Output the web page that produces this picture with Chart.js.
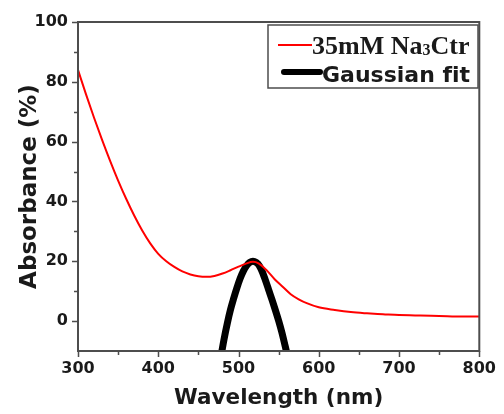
<!DOCTYPE html>
<html lang="en">
<head>
<meta charset="UTF-8">
<title>Absorbance spectrum</title>
<script src="https://cdn.jsdelivr.net/npm/chart.js"></script>
<style>
  html, body { margin: 0; padding: 0; background: #fff; }
  #wrap { width: 504px; height: 414px; position: relative; }
</style>
</head>
<body>
<div id="wrap"><canvas id="absChart"></canvas></div>
<script>
// measured spectrum
const wavelength = [300, 310, 320, 330, 340, 350, 360, 370, 380, 390, 400, 410, 420, 430, 440, 450, 460, 470, 480, 490,
  500, 510, 518, 525, 535, 545, 555, 565, 575, 585, 600, 620, 640, 660, 680, 700, 720, 740, 760, 780, 800];
const absorbance = [84, 75.8, 68, 60.6, 53.6, 47, 40.9, 35.3, 30.3, 26, 22.5, 20, 18.1, 16.6, 15.6, 15, 14.8, 15.1, 15.9, 17,
  18.2, 19.3, 19.8, 19.3, 17, 14, 11.5, 9, 7.3, 6, 4.6, 3.7, 3, 2.6, 2.3, 2, 1.9, 1.8, 1.6, 1.5, 1.5];

// gaussian fit of the plasmon band
const fitWavelength = [478, 482, 486, 490, 494, 498, 502, 506, 510, 514, 518, 522, 526, 530, 534, 538, 542, 546, 550, 554, 558, 562];
const fitAbsorbance = [-12, -6, -0.8, 3.8, 7.6, 11.1, 14.2, 16.7, 18.5, 19.6, 20, 19.6, 18.5, 16.2, 13.3, 10.1, 6.9, 3.6, 0.1, -3.8, -8.2, -12.7];

const seriesNames = ['35mM Na₃Ctr', 'Gaussian fit'];

const xTicks = [300, 350, 400, 450, 500, 550, 600, 650, 700, 750, 800];
const xLabels = [300, 400, 500, 600, 700, 800];
const yTicks = [0, 10, 20, 30, 40, 50, 60, 70, 80, 90, 100];
const yLabels = [0, 20, 40, 60, 80, 100];

const toPoints = (xs, ys) => xs.map((v, i) => ({ x: v, y: ys[i] }));

const AXIS_COLOR = '#4d4d4d';
const TEXT_COLOR = '#1a1a1a';

// box around the plot plus outward tick marks
const frameTicks = {
  id: 'frameTicks',
  afterDatasetsDraw(chart) {
    const { ctx, chartArea: a, scales: { x, y } } = chart;
    ctx.save();
    ctx.strokeStyle = AXIS_COLOR;
    ctx.lineWidth = 2;
    ctx.strokeRect(a.left, a.top, a.right - a.left, a.bottom - a.top);
    ctx.lineWidth = 1.5;
    ctx.beginPath();
    xTicks.forEach(v => {
      const px = Math.round(x.getPixelForValue(v)) + 0.5;
      const len = xLabels.includes(v) ? 6 : 4;
      ctx.moveTo(px, a.bottom);
      ctx.lineTo(px, a.bottom + len);
    });
    yTicks.forEach(v => {
      const py = Math.round(y.getPixelForValue(v)) + 0.5;
      const len = yLabels.includes(v) ? 6 : 4;
      ctx.moveTo(a.left, py);
      ctx.lineTo(a.left - len, py);
    });
    ctx.stroke();
    ctx.restore();
  }
};

// draws text, shrinking subscript digits (₀-₉)
function drawMixed(ctx, text, x, y, family, size) {
  const subs = '₀₁₂₃₄₅₆₇₈₉';
  for (const ch of text) {
    const k = subs.indexOf(ch);
    if (k >= 0) {
      ctx.font = `bold ${Math.round(size * 0.6)}px ${family}`;
      ctx.fillText(String(k), x, y + 1);
      x += ctx.measureText(String(k)).width;
    } else {
      ctx.font = `bold ${size}px ${family}`;
      ctx.fillText(ch, x, y);
      x += ctx.measureText(ch).width;
    }
  }
}

const boxLegend = {
  id: 'boxLegend',
  afterDraw(chart) {
    const { ctx } = chart;
    const ds = chart.data.datasets;
    ctx.save();
    ctx.fillStyle = '#fff';
    ctx.fillRect(268, 25, 210, 63);
    ctx.strokeStyle = AXIS_COLOR;
    ctx.lineWidth = 1.5;
    ctx.strokeRect(268, 25, 210, 63);

    ctx.lineCap = 'butt';
    ctx.strokeStyle = ds[0].borderColor;
    ctx.lineWidth = 2;
    ctx.beginPath();
    ctx.moveTo(278, 45);
    ctx.lineTo(312, 45);
    ctx.stroke();

    ctx.strokeStyle = ds[1].borderColor;
    ctx.lineWidth = 6;
    ctx.lineCap = 'round';
    ctx.beginPath();
    ctx.moveTo(284, 72);
    ctx.lineTo(320, 72);
    ctx.stroke();

    ctx.fillStyle = TEXT_COLOR;
    ctx.textBaseline = 'alphabetic';
    drawMixed(ctx, ds[0].label, 312, 54, '"Liberation Serif", "Times New Roman", serif', 26);
    drawMixed(ctx, ds[1].label, 322, 82, '"DejaVu Sans", Verdana, sans-serif', 22);
    ctx.restore();
  }
};

const tickFont = { family: '"DejaVu Sans", Verdana, sans-serif', size: 16, weight: 'bold' };
const titleFont = { family: '"DejaVu Sans", Verdana, sans-serif', size: 21.5, weight: 'bold' };

new Chart(document.getElementById('absChart'), {
  type: 'line',
  data: {
    datasets: [
      {
        label: seriesNames[0],
        data: toPoints(wavelength, absorbance),
        borderColor: '#ff0000',
        borderWidth: 2,
        pointRadius: 0,
        cubicInterpolationMode: 'monotone'
      },
      {
        label: seriesNames[1],
        data: toPoints(fitWavelength, fitAbsorbance),
        borderColor: '#000000',
        borderWidth: 7,
        pointRadius: 0,
        cubicInterpolationMode: 'monotone',
        clip: 0
      }
    ]
  },
  options: {
    responsive: true,
    maintainAspectRatio: false,
    animation: false,
    layout: { padding: { top: 22, right: 19, left: 0, bottom: 0 } },
    plugins: { legend: { display: false }, tooltip: { enabled: false } },
    scales: {
      x: {
        type: 'linear',
        min: 300,
        max: 800,
        afterBuildTicks: s => { s.ticks = xTicks.map(v => ({ value: v })); },
        afterFit: s => { s.height = 63; },
        grid: { display: false, drawTicks: false },
        border: { display: false },
        ticks: {
          autoSkip: false,
          maxRotation: 0,
          padding: 8,
          color: TEXT_COLOR,
          font: tickFont,
          callback: v => xLabels.includes(v) ? String(v) : ''
        },
        title: {
          display: true,
          text: 'Wavelength (nm)',
          color: TEXT_COLOR,
          font: titleFont,
          padding: { top: 0, bottom: 3 }
        }
      },
      y: {
        min: -10,
        max: 100,
        afterBuildTicks: s => { s.ticks = yTicks.map(v => ({ value: v })); },
        afterFit: s => { s.width = 78; },
        grid: { display: false, drawTicks: false },
        border: { display: false },
        ticks: {
          autoSkip: false,
          padding: 10,
          color: TEXT_COLOR,
          font: tickFont,
          callback: v => yLabels.includes(v) ? String(v) : ''
        },
        title: {
          display: true,
          text: 'Absorbance (%)',
          color: TEXT_COLOR,
          font: { ...titleFont, size: 23 },
          padding: { top: 16, bottom: 0 }
        }
      }
    }
  },
  plugins: [frameTicks, boxLegend]
});
</script>
</body>
</html>
